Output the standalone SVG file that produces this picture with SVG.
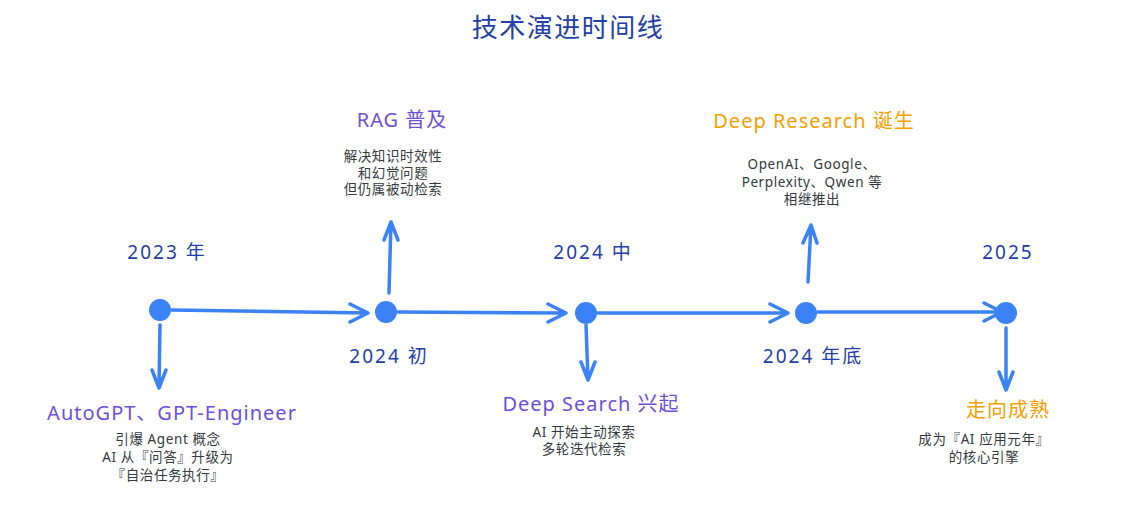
<svg xmlns="http://www.w3.org/2000/svg" width="1140" height="522" viewBox="0 0 1140 522">
<defs>
<style>
text{font-family:"Noto Sans","Noto Sans CJK SC",sans-serif;text-anchor:middle}
.title{font-size:26px;fill:#2340a8;letter-spacing:1.5px}
.date{font-size:19px;fill:#2340a8;letter-spacing:2px}
.head-p{font-size:20px;fill:#6d4fdc;letter-spacing:1px}
.head-o{font-size:20px;fill:#f59f00;letter-spacing:1px}
.desc{font-size:13.5px;fill:#343a40;letter-spacing:0.6px}
.line{stroke:#3b82f6;stroke-width:3.5;fill:none;stroke-linecap:round;stroke-linejoin:round}
.dot{fill:#3b82f6}
</style>
</defs>
<rect width="1140" height="522" fill="#ffffff"/>
<text class="title" x="568" y="37">技术演进时间线</text>

<g id="connectors">
<path class="line" d="M172 310 L368 313 M350 304 L368 313 L350 322"/>
<path class="line" d="M398 312 L566 313 M548 304 L566 313 L548 322"/>
<path class="line" d="M598 313 L788 313 M770 304 L788 313 L770 322"/>
<path class="line" d="M818 312 L1002 312 M984 303 L1002 312 L984 321"/>
<path class="line" d="M160 325 L159 388 M152 370 L159 388 L166 370"/>
<path class="line" d="M389 293 L391 222 M384 240 L391 222 L398 240"/>
<path class="line" d="M586 325 L588 380 M581 362 L588 380 L595 362"/>
<path class="line" d="M808 282 L811 225 M803 243 L811 225 L817 243"/>
<path class="line" d="M1006 328 L1006 390 M999 372 L1006 390 L1013 372"/>
</g>

<g id="n2023">
<circle class="dot" cx="160" cy="310" r="11"/>
<text class="date" x="167" y="259">2023 年</text>
<text class="head-p" x="172" y="420">AutoGPT、GPT-Engineer</text>
<text class="desc" x="168" y="444">引爆 Agent 概念</text>
<text class="desc" x="168" y="462">AI 从『问答』升级为</text>
<text class="desc" x="168" y="480">『自治任务执行』</text>
</g>

<g id="n2024a">
<circle class="dot" cx="386" cy="312" r="11"/>
<text class="date" x="389" y="363">2024 初</text>
<text class="head-p" x="402" y="127">RAG 普及</text>
<text class="desc" x="393" y="161">解决知识时效性</text>
<text class="desc" x="393" y="178">和幻觉问题</text>
<text class="desc" x="393" y="194">但仍属被动检索</text>
</g>

<g id="n2024b">
<circle class="dot" cx="586" cy="313" r="11"/>
<text class="date" x="593" y="259">2024 中</text>
<text class="head-p" x="591" y="411">Deep Search 兴起</text>
<text class="desc" x="584" y="437">AI 开始主动探索</text>
<text class="desc" x="584" y="454">多轮迭代检索</text>
</g>

<g id="n2024c">
<circle class="dot" cx="806" cy="313" r="11"/>
<text class="date" x="813" y="363">2024 年底</text>
<text class="head-o" x="814" y="128">Deep Research 诞生</text>
<text class="desc" x="812" y="169">OpenAI、Google、</text>
<text class="desc" x="812" y="187">Perplexity、Qwen 等</text>
<text class="desc" x="812" y="204">相继推出</text>
</g>

<g id="n2025">
<circle class="dot" cx="1006" cy="313" r="11"/>
<text class="date" x="1008" y="259">2025</text>
<text class="head-o" x="1008" y="417">走向成熟</text>
<text class="desc" x="984" y="444">成为『AI 应用元年』</text>
<text class="desc" x="984" y="462">的核心引擎</text>
</g>
</svg>
